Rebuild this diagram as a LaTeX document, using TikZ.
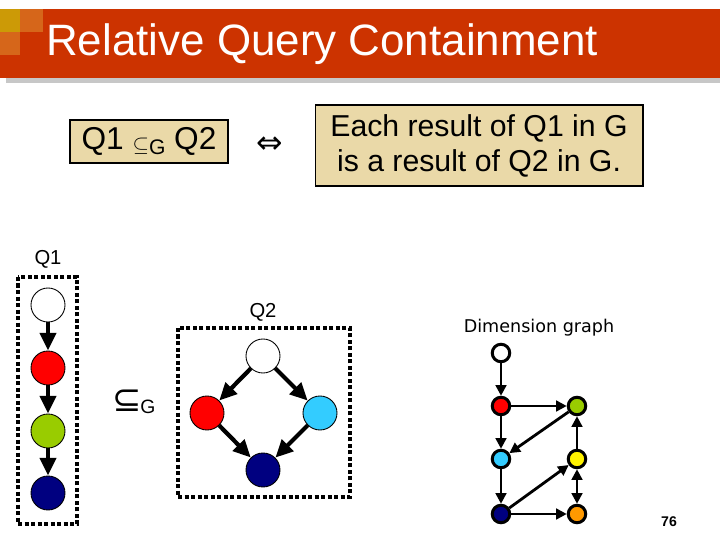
\documentclass[tikz,border=0pt]{standalone}
\usepackage{fontspec}
\setmainfont{Liberation Sans}
\newfontfamily\dimfont{DejaVu Sans}
\usetikzlibrary{arrows.meta}
\definecolor{titlered}{HTML}{CC3300}
\definecolor{titlegold}{HTML}{CC9A06}
\definecolor{titleorange}{HTML}{D6661A}
\definecolor{boxtan}{HTML}{EAD9A8}
\definecolor{qgreen}{HTML}{99CC00}
\definecolor{qnavy}{HTML}{000080}
\definecolor{qcyan}{HTML}{33CCFF}
\definecolor{qorange}{HTML}{FF9900}
\tikzset{
  bigdot/.style={circle,draw=black,line width=0.5pt,minimum size=0.68cm,inner sep=0pt},
  smalldot/.style={circle,draw=black,line width=1.7pt,minimum size=0.35cm,inner sep=0pt},
  bigarrow/.style={-{Triangle[length=10pt,width=9pt]},line width=2.4pt},
  smallarrow/.style={-{Triangle[length=6pt,width=6pt]},line width=1.6pt},
  querybox/.style={draw,line width=1.8pt,dash pattern=on 2.5pt off 1.2pt},
  tanbox/.style={draw,fill=boxtan,line width=0.6pt,inner sep=0pt}
}
\begin{document}
\begin{tikzpicture}[x=0.02cm,y=-0.02cm]
\useasboundingbox (0,0) rectangle (720,540);
% title bar
\fill[black!22] (6,78) rectangle (720,83);
\fill[titlered] (0,9) rectangle (720,78);
\fill[titlegold] (0,9) rectangle (20,32);
\fill[titleorange] (20,9) rectangle (43,32);
\fill[titleorange] (0,32) rectangle (20,55);
\node[anchor=west,text=white,font=\fontsize{25}{25}\selectfont] (title) at (40,44) {Relative Query Containment};

% definition
\node[tanbox,minimum width=3.16cm,minimum height=0.86cm,font=\fontsize{18}{18}\selectfont] (defn) at (149,141.5)
  {Q1 \raisebox{-1pt}{\fontsize{12}{12}\selectfont$\subseteq$\raisebox{-2pt}{G}} Q2};
\node[font=\dimfont\fontsize{18}{18}\selectfont] (iff) at (270,145) {⇔};
\node[tanbox,minimum width=6.56cm,minimum height=1.62cm,align=center,font=\fontsize{17.2}{20}\selectfont] (meaning) at (479,145.5)
  {Each result of Q1 in G\\is a result of Q2 in G.};

% Q1
\node[font=\fontsize{11.5}{11.5}\selectfont] (q1label) at (48,259) {Q1};
\draw[querybox] (18,277) rectangle (77,524);
\node[bigdot,fill=white] (a1) at (48,305) {};
\node[bigdot,fill=red] (b1) at (48,368) {};
\node[bigdot,fill=qgreen] (c1) at (48,431) {};
\node[bigdot,fill=qnavy] (d1) at (48,493) {};
\draw[bigarrow] (a1) -- (b1);
\draw[bigarrow] (b1) -- (c1);
\draw[bigarrow] (c1) -- (d1);

\node (sub) at (134,402) {{\dimfont\fontsize{20}{20}\selectfont ⊆}\hspace{-1pt}\raisebox{-1pt}{\fontsize{11}{11}\selectfont G}};

% Q2
\node[font=\fontsize{11.5}{11.5}\selectfont] (q2label) at (263,312) {Q2};
\draw[querybox] (178,328) rectangle (350,497);
\node[bigdot,fill=white] (a2) at (263,356) {};
\node[bigdot,fill=red] (b2) at (207,413) {};
\node[bigdot,fill=qcyan] (c2) at (320,413) {};
\node[bigdot,fill=qnavy] (d2) at (263,470) {};
\draw[bigarrow] (a2) -- (b2);
\draw[bigarrow] (a2) -- (c2);
\draw[bigarrow] (b2) -- (d2);
\draw[bigarrow] (c2) -- (d2);

% dimension graph
\node[font=\dimfont\fontsize{10}{10}\selectfont] (dimlabel) at (539,328) {Dimension graph};
\node[smalldot,fill=white] (top) at (501,353) {};
\node[smalldot,fill=red] (red) at (501,406) {};
\node[smalldot,fill=qgreen] (green) at (577,406) {};
\node[smalldot,fill=qcyan] (cyan) at (501,459) {};
\node[smalldot,fill=yellow] (yellow) at (577,459) {};
\node[smalldot,fill=qnavy] (navy) at (501,514) {};
\node[smalldot,fill=qorange] (orange) at (577,514) {};
\draw[smallarrow] (top) -- (red);
\draw[smallarrow] (red) -- (green);
\draw[smallarrow] (red) -- (cyan);
\draw[smallarrow] (green) -- (cyan);
\draw[smallarrow] (cyan) -- (navy);
\draw[smallarrow] (navy) -- (yellow);
\draw[smallarrow] (navy) -- (orange);
\draw[smallarrow] (yellow) -- (green);
\draw[smallarrow,{Triangle[length=6pt,width=6pt]}-{Triangle[length=6pt,width=6pt]}] (yellow) -- (orange);

\node[font=\bfseries\fontsize{8}{8}\selectfont] (pagenum) at (669,522) {76};
\end{tikzpicture}
\end{document}
